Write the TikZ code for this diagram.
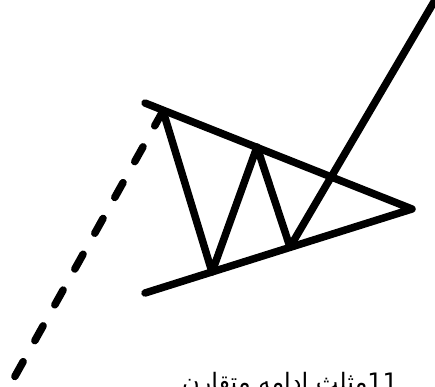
\documentclass[tikz,border=0pt]{standalone}
\usepackage{fontspec}
\newfontfamily\arabicfont[Script=Arabic]{DejaVu Sans}
\TeXXeTstate=1
\begin{document}
\begin{tikzpicture}[x=1pt,y=-1pt,
  thick line/.style={line width=7.5pt, line cap=round, line join=round},
  dashline/.style={line width=7.5pt, line cap=round, dash pattern=on 17pt off 24pt},
  caption/.style={font=\arabicfont\fontsize{24}{28}\selectfont, inner sep=0pt, anchor=base}]
\useasboundingbox (0,0) rectangle (435,386);
\clip (0,0) rectangle (435,386);
\coordinate (UL) at (145,103);
\coordinate (LL) at (145,293);
\coordinate (T) at (412,209);
\coordinate (A) at (163,111);
\coordinate (B) at (212,272);
\coordinate (C) at (257,147);
\coordinate (D) at (290,247);
\coordinate (E) at (438,-5);
\coordinate (F) at (14,378);
\draw[thick line] (UL) -- (T) -- (LL);
\draw[thick line] (A) -- (B) -- (C) -- (D) -- (E);
\draw[dashline] (A) -- (F);
\node[caption] (cap) at (290,390) {\beginR\beginL 11\endL مثلث ادامه متقارن\endR};
\end{tikzpicture}
\end{document}
